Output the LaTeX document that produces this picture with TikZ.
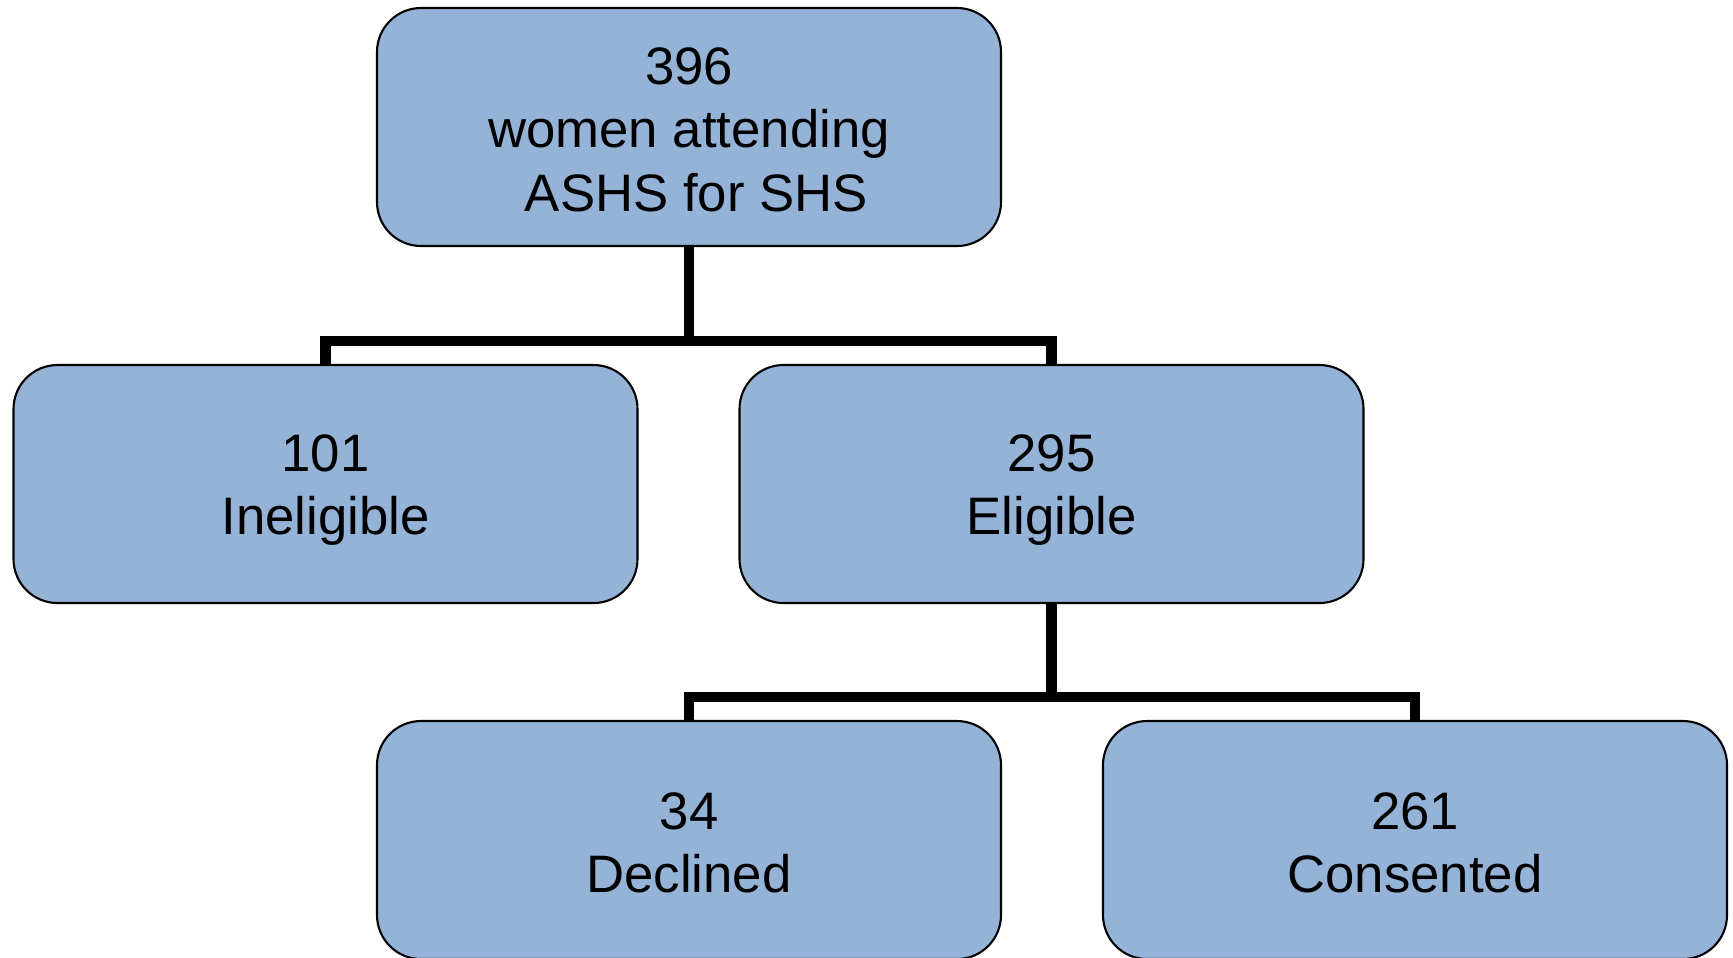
\documentclass[tikz,border=0pt]{standalone}
\usepackage{fontspec}
\setmainfont{Liberation Sans}
\definecolor{boxblue}{RGB}{149,179,215}
\newcommand{\topgap}[1][14pt]{\rule{0pt}{#1}}
\begin{document}
\begin{tikzpicture}[every node/.style={align=center},
  countbox/.style={draw, rounded corners=0.44cm, fill=boxblue, line width=0.6pt,
    minimum width=6.24cm, minimum height=2.38cm, inner sep=0pt,
    font=\fontsize{15}{18}\selectfont},
  conn/.style={line width=3.1pt, line join=miter}]
\useasboundingbox (0,0) rectangle (17.33,-9.57);
\node[countbox] at (6.89,-1.27) (attend) {\topgap[12pt]396\\women attending\\\mbox{} ASHS for SHS};
\node[countbox] at (3.255,-4.84) (inelig) {\topgap 101\\Ineligible};
\node[countbox] at (10.515,-4.84) (elig) {\topgap 295\\Eligible};
\node[countbox] at (6.89,-8.40) (declined) {\topgap[12pt]34\\Declined};
\node[countbox] at (14.15,-8.40) (consent) {\topgap[12pt]261\\Consented};

\coordinate (split1) at (6.89,-3.41);
\coordinate (split2) at (10.515,-6.97);
\draw[conn] (attend.south) -- (split1);
\draw[conn] (split1) -| (inelig.north);
\draw[conn] (split1) -| (elig.north);
\draw[conn] (elig.south) -- (split2);
\draw[conn] (split2) -| (declined.north);
\draw[conn] (split2) -| (consent.north);
\end{tikzpicture}
\end{document}
